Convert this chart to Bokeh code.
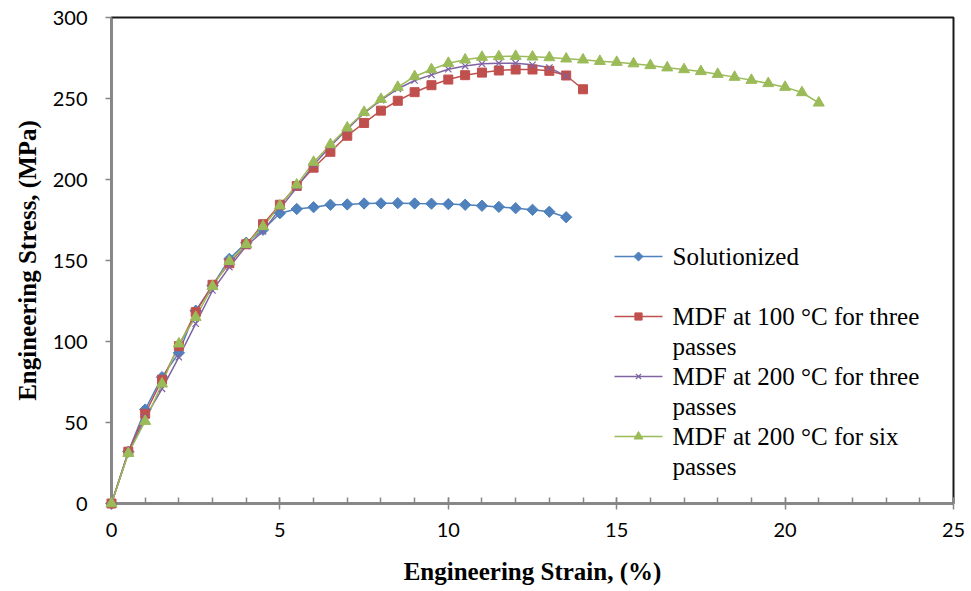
from bokeh.plotting import figure
from bokeh.models import Range1d, Label, SingleIntervalTicker
from bokeh.embed import file_html
from bokeh.resources import INLINE

# Engineering strain (%) and stress (MPa) for each condition
strain_sol = [0, 0.5, 1, 1.5, 2, 2.5, 3, 3.5, 4, 4.5, 5, 5.5, 6, 6.5, 7, 7.5,
              8, 8.5, 9, 9.5, 10, 10.5, 11, 11.5, 12, 12.5, 13, 13.5]
stress_sol = [0, 32, 58, 78, 93, 119, 134.5, 151, 161, 169, 179.2, 181.8, 182.9,
              184.4, 184.6, 185.2, 185.3, 185.4, 185.2, 185.1, 184.8, 184.4,
              183.8, 183.1, 182.3, 181.3, 180.1, 176.7]

strain_100_3 = [0, 0.5, 1, 1.5, 2, 2.5, 3, 3.5, 4, 4.5, 5, 5.5, 6, 6.5, 7, 7.5,
                8, 8.5, 9, 9.5, 10, 10.5, 11, 11.5, 12, 12.5, 13, 13.5, 14]
stress_100_3 = [0, 32, 55.4, 76.4, 97.1, 118.1, 135, 148.3, 160, 172.4, 184.4,
                196, 207.3, 217.1, 227, 234.9, 242.5, 248.6, 253.9, 258.2,
                261.7, 264.4, 266, 267.3, 267.9, 267.9, 267.1, 264.2, 255.7]

strain_200_3 = [0, 0.5, 1, 1.5, 2, 2.5, 3, 3.5, 4, 4.5, 5, 5.5, 6, 6.5, 7, 7.5,
                8, 8.5, 9, 9.5, 10, 10.5, 11, 11.5, 12, 12.5, 13, 13.5]
stress_200_3 = [0, 31, 53, 70.8, 90.3, 111, 131.5, 145.9, 159, 168, 182, 195,
                209, 220.5, 231, 241, 249, 256, 261.1, 264.6, 268.1, 270,
                271.4, 271.8, 271.8, 270.8, 269.1, 263.8]

strain_200_6 = [0, 0.5, 1, 1.5, 2, 2.5, 3, 3.5, 4, 4.5, 5, 5.5, 6, 6.5, 7, 7.5,
                8, 8.5, 9, 9.5, 10, 10.5, 11, 11.5, 12, 12.5, 13, 13.5, 14,
                14.5, 15, 15.5, 16, 16.5, 17, 17.5, 18, 18.5, 19, 19.5, 20,
                20.5, 21]
stress_200_6 = [0, 31, 50.8, 73.9, 98.6, 115, 134, 149.5, 160, 171, 183.8,
                196.7, 210.7, 221.6, 231.9, 241.5, 249.5, 257, 263.6, 267.9,
                271.8, 273.9, 275.5, 275.9, 276.1, 275.7, 275.3, 274.5, 273.9,
                273, 272.4, 271.5, 270.4, 269, 267.9, 266.7, 265, 263.2, 261.3,
                259.3, 257, 253.7, 247.3]

legend_labels = ["Solutionized",
                 "MDF at 100 °C for three\npasses",
                 "MDF at 200 °C for three\npasses",
                 "MDF at 200 °C for six\npasses"]

BLUE, RED, PURPLE, GREEN = "#4F81BD", "#C0504D", "#8064A2", "#9BBB59"

X_MIN, X_MAX, Y_MIN, Y_MAX = 0, 25, 0, 300
LEFT, TOP, RIGHT, BOTTOM = 111, 17, 18, 88
W, H = 971, 591
FRAME_W = W - LEFT - RIGHT
FRAME_H = H - TOP - BOTTOM

p = figure(width=W, height=H, output_backend="svg", toolbar_location=None,
           x_range=Range1d(X_MIN, X_MAX), y_range=Range1d(Y_MIN, Y_MAX),
           min_border_left=LEFT, min_border_right=RIGHT,
           min_border_top=TOP, min_border_bottom=BOTTOM)
p.background_fill_color = "white"
p.border_fill_color = "white"
p.grid.visible = False
p.outline_line_color = "#1a1a1a"
p.outline_line_width = 2

TICK_FONT = "Lato"
TITLE_FONT = "Liberation Serif"

p.xaxis.ticker = SingleIntervalTicker(interval=5, num_minor_ticks=5)
p.yaxis.ticker = SingleIntervalTicker(interval=50, num_minor_ticks=0)
for ax in (p.xaxis, p.yaxis):
    ax.axis_line_color = "#868686"
    ax.axis_line_width = 2
    ax.major_tick_line_color = "#868686"
    ax.minor_tick_line_color = "#868686"
    ax.major_tick_line_width = 1.5
    ax.minor_tick_line_width = 1.5
    ax.major_label_text_font = TICK_FONT
    ax.major_label_text_font_size = "20px"
    ax.major_label_text_color = "black"
    ax.axis_label_text_font = TITLE_FONT
    ax.axis_label_text_font_style = "bold"
    ax.axis_label_text_font_size = "25px"
    ax.axis_label_text_color = "black"

p.xaxis.axis_label = "Engineering Strain, (%)"
p.xaxis.major_tick_in = 6
p.xaxis.major_tick_out = 6
p.xaxis.minor_tick_in = 6
p.xaxis.minor_tick_out = 0
p.xaxis.major_label_standoff = 13
p.xaxis.axis_label_standoff = 18

p.yaxis.axis_label = "Engineering Stress, (MPa)"
p.yaxis.major_tick_in = 0
p.yaxis.major_tick_out = 6
p.yaxis.minor_tick_in = 0
p.yaxis.minor_tick_out = 0
p.yaxis.major_label_standoff = 18
p.yaxis.axis_label_standoff = 9

series = [
    (strain_sol, stress_sol, BLUE, dict(marker="square", size=8, angle=0.785398)),
    (strain_100_3, stress_100_3, RED, dict(marker="square", size=9)),
    (strain_200_3, stress_200_3, PURPLE, dict(marker="x", size=9, line_width=1.2)),
    (strain_200_6, stress_200_6, GREEN, dict(marker="triangle", size=11)),
]

for xs, ys, color, mk in series:
    p.line(xs, ys, line_color=color, line_width=1.5)
    p.scatter(xs, ys, fill_color=color, line_color=color, level="overlay", **mk)


# legend, placed in pixel terms on the frame
def px_to_x(px):
    return X_MIN + (px - LEFT) / FRAME_W * (X_MAX - X_MIN)


def py_to_y(py):
    return Y_MIN + (TOP + FRAME_H - py) / FRAME_H * (Y_MAX - Y_MIN)


rows = [256, 316, 376, 436]
for (xs, ys, color, mk), label, row in zip(series, legend_labels, rows):
    yv = py_to_y(row)
    p.line([px_to_x(614), px_to_x(662)], [yv, yv], line_color=color, line_width=1.5)
    lm = dict(mk)
    lm["size"] = mk["size"] * 0.8
    p.scatter([px_to_x(638)], [yv], fill_color=color, line_color=color, **lm)
    for i, line in enumerate(label.split("\n")):
        p.add_layout(Label(x=px_to_x(672), y=py_to_y(row + 30 * i), text=line,
                           text_font=TITLE_FONT, text_font_size="25px",
                           text_color="black", text_baseline="middle",
                           text_align="left"))

open("out.html", "w").write(file_html(p, INLINE))
